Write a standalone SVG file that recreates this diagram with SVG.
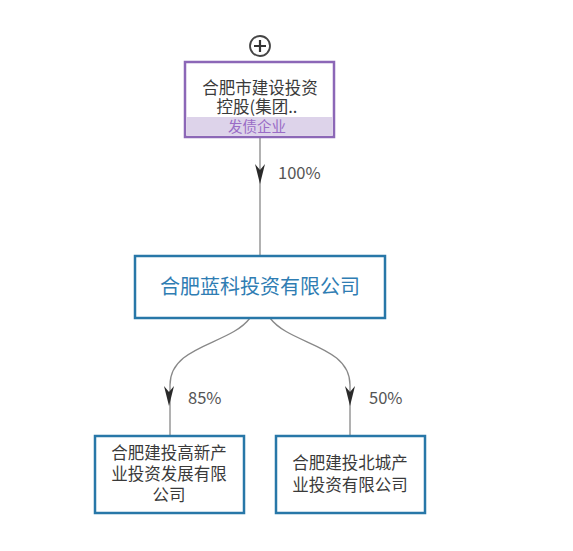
<svg xmlns="http://www.w3.org/2000/svg" width="573" height="551" viewBox="0 0 573 551">
<style>
text{font-family:"Microsoft YaHei","Noto Sans CJK SC","Noto Sans",sans-serif}
.box{fill:#fff;stroke:#2877a8;stroke-width:2.5}
.t{fill:#3a3a3a;font-size:16.5px;text-anchor:middle}
.pct{fill:#555;font-size:16.5px}
.edge{fill:none;stroke:#888;stroke-width:1.3}
</style>
<defs>
<marker id="ah" viewBox="0 0 20 10" refX="20" refY="5" markerWidth="20" markerHeight="10" markerUnits="userSpaceOnUse" orient="auto">
<path d="M0,0 L20,5 L0,10 L6,5 Z" fill="#2a2a2a"/>
</marker>
</defs>
<rect width="573" height="551" fill="#fff"/>
<g id="connectors">
<line class="edge" x1="260" y1="138" x2="260" y2="256"/>
<path d="M260,162 L260,184" fill="none" stroke="none" marker-end="url(#ah)"/>
<path class="edge" d="M250,318 C230,345 170,345 170,385 L170,436"/>
<path d="M169,385 L169,406" fill="none" stroke="none" marker-end="url(#ah)"/>
<path class="edge" d="M270,318 C290,345 350,345 350,385 L350,436"/>
<path d="M350,385 L350,406" fill="none" stroke="none" marker-end="url(#ah)"/>
<text class="pct" x="278" y="179">100%</text>
<text class="pct" x="188" y="404">85%</text>
<text class="pct" x="369" y="404">50%</text>
</g>
<g id="node-top">
<circle cx="260" cy="46" r="10" fill="#fff" stroke="#444" stroke-width="1.8"/>
<path d="M254,46 H266 M260,40 V52" stroke="#333" stroke-width="2.2"/>
<rect x="185" y="62" width="149" height="75" fill="#fff" stroke="#8c67b7" stroke-width="2.5"/>
<rect x="186.5" y="117" width="146" height="18.5" fill="#ddd3ea"/>
<text class="t" x="260" y="94">合肥市建设投资</text>
<text class="t" x="257" y="113">控股(集团..</text>
<text x="257" y="132" font-size="14.5" fill="#9a6cc6" text-anchor="middle">发债企业</text>
</g>
<g id="node-mid">
<rect class="box" x="135" y="256" width="250" height="62"/>
<text x="260" y="294" font-size="20" fill="#2f7db3" text-anchor="middle">合肥蓝科投资有限公司</text>
</g>
<g id="node-left">
<rect class="box" x="95" y="436" width="149" height="77"/>
<text class="t" x="169" y="459">合肥建投高新产</text>
<text class="t" x="169" y="480">业投资发展有限</text>
<text class="t" x="169" y="501">公司</text>
</g>
<g id="node-right">
<rect class="box" x="276" y="436" width="149" height="77"/>
<text class="t" x="350" y="469">合肥建投北城产</text>
<text class="t" x="350" y="491">业投资有限公司</text>
</g>
</svg>
